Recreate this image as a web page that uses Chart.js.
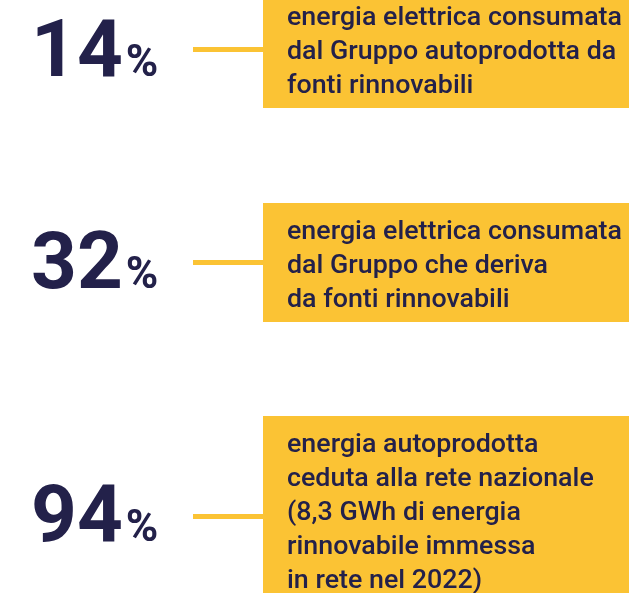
<!DOCTYPE html>
<html>
<head>
<meta charset="utf-8">
<script src="https://cdn.jsdelivr.net/npm/chart.js@4"></script>
<style>
  html, body { margin: 0; padding: 0; background: #fff; }
</style>
</head>
<body>
<canvas id="chart" width="629" height="593"></canvas>
<script>
// Values shown as the big percentages
const values = [14, 32, 94];

// Description lines next to each value
const descriptions = [
  ['energia elettrica consumata', 'dal Gruppo autoprodotta da', 'fonti rinnovabili'],
  ['energia elettrica consumata', 'dal Gruppo che deriva', 'da fonti rinnovabili'],
  ['energia autoprodotta', 'ceduta alla rete nazionale', '(8,3 GWh di energia', 'rinnovabile immessa', 'in rete nel 2022)']
];

// Layout of each row (pixels)
const boxTops = [0, 203, 416];
const boxBottoms = [108, 322, 593];
const numberBaselines = [76, 288, 541];
const connectorYs = [49, 262, 516];
const firstLineYs = [18, 232, 445];

const navy = '#23214a';
const yellow = '#fbc334';

const infographic = {
  id: 'infographic',
  afterDraw(chart) {
    const ctx = chart.ctx;
    ctx.save();
    // condensed look: squeeze the text so the longest line fits the box
    ctx.font = '500 26px Roboto';
    const squeeze = 335 / ctx.measureText('energia elettrica consumata').width;

    values.forEach((v, i) => {
      // yellow box
      ctx.fillStyle = yellow;
      ctx.fillRect(263, boxTops[i], 629 - 263, boxBottoms[i] - boxTops[i]);
      // connector line
      ctx.fillRect(193, connectorYs[i] - 2, 70, 5);

      // big number
      ctx.fillStyle = navy;
      ctx.textBaseline = 'alphabetic';
      ctx.textAlign = 'left';
      ctx.font = 'bold 80px Roboto';
      const txt = String(v);
      ctx.fillText(txt, 31, numberBaselines[i]);
      const w = ctx.measureText(txt).width;
      ctx.font = 'bold 44px Roboto';
      ctx.fillText('%', 31 + w + 3, numberBaselines[i]);

      // description text
      ctx.font = '500 26px Roboto';
      ctx.textBaseline = 'middle';
      descriptions[i].forEach((line, j) => {
        ctx.save();
        ctx.translate(287, firstLineYs[i] + j * 34);
        ctx.scale(squeeze, 1);
        ctx.fillText(line, 0, 0);
        ctx.restore();
      });
    });
    ctx.restore();
  }
};

new Chart(document.getElementById('chart'), {
  type: 'bar',
  data: {
    labels: values.map(v => v + '%'),
    datasets: [{ data: values, backgroundColor: 'rgba(0,0,0,0)' }]
  },
  options: {
    responsive: false,
    animation: false,
    plugins: { legend: { display: false }, tooltip: { enabled: false } },
    scales: { x: { display: false }, y: { display: false } }
  },
  plugins: [infographic]
});
</script>
</body>
</html>
